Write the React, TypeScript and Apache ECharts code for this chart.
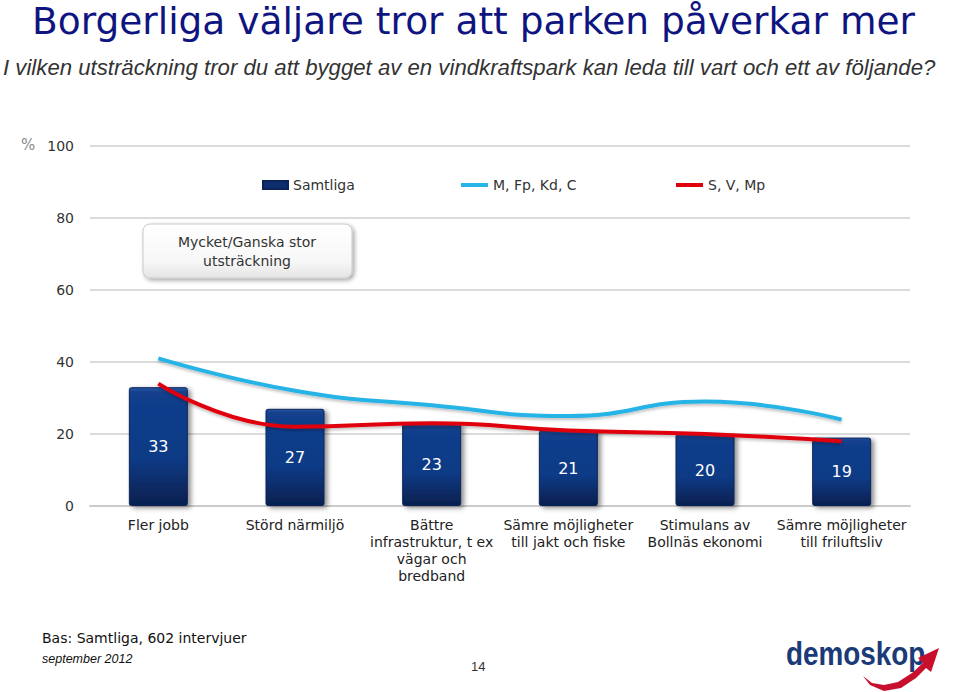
import React, { useEffect, useRef } from "react";
import * as echarts from "echarts";

const categories = [
  "Fler jobb",
  "Störd närmiljö",
  "Bättre\ninfrastruktur, t ex\nvägar och\nbredband",
  "Sämre möjligheter\ntill jakt och fiske",
  "Stimulans av\nBollnäs ekonomi",
  "Sämre möjligheter\ntill friluftsliv",
];
const samtliga = [33, 27, 23, 21, 20, 19];
const borgerliga = [41, 32, 28, 25, 29, 24];
const rodgrona = [34, 22, 23, 21, 20, 18];
const seriesNames = ["Samtliga", "M, Fp, Kd, C", "S, V, Mp"];
const yTicks = { min: 0, max: 100, interval: 20 };

const SANS = "'DejaVu Sans', Verdana, sans-serif";
const ARIAL = "'Liberation Sans', Arial, sans-serif";

export default function App() {
  const ref = useRef<HTMLDivElement>(null);
  useEffect(() => {
    document.body.style.margin = "0";
    const chart = echarts.init(ref.current!, null, { renderer: "svg" });
    const barGradient = new echarts.graphic.LinearGradient(0, 0, 0, 1, [
      { offset: 0, color: "#2a57a3" },
      { offset: 0.04, color: "#123f8c" },
      { offset: 0.6, color: "#0c3a85" },
      { offset: 1, color: "#06204f" },
    ]);
    const legendText = { fontFamily: SANS, fontSize: 14, color: "#333" };
    chart.setOption({
      animation: false,
      backgroundColor: "#ffffff",
      grid: { left: 90, right: 50, top: 146, bottom: 186 },
      legend: [
        {
          data: [{ name: seriesNames[0], itemStyle: { color: "#0d2e6e" } }],
          left: 262,
          top: 178,
          padding: 0,
          icon: "rect",
          itemWidth: 25,
          itemHeight: 8,
          textStyle: legendText,
        },
        {
          data: [{ name: seriesNames[1] }],
          left: 461,
          top: 178,
          padding: 0,
          icon: "rect",
          itemWidth: 27,
          itemHeight: 4,
          textStyle: legendText,
        },
        {
          data: [{ name: seriesNames[2] }],
          left: 676,
          top: 178,
          padding: 0,
          icon: "rect",
          itemWidth: 27,
          itemHeight: 4,
          textStyle: legendText,
        },
      ],
      xAxis: {
        type: "category",
        data: categories,
        axisTick: { show: false },
        axisLine: { lineStyle: { color: "#cbcbcb", width: 2 } },
        axisLabel: {
          interval: 0,
          margin: 10,
          fontFamily: SANS,
          fontSize: 14,
          lineHeight: 17,
          color: "#222",
          align: "center",
        },
      },
      yAxis: {
        type: "value",
        min: yTicks.min,
        max: yTicks.max,
        interval: yTicks.interval,
        axisLine: { show: false },
        axisTick: { show: false },
        axisLabel: { margin: 16, fontFamily: SANS, fontSize: 14, color: "#333" },
        splitLine: { lineStyle: { color: "#cfcfcf", width: 1.6 } },
      },
      series: [
        {
          name: seriesNames[0],
          type: "bar",
          data: samtliga,
          barWidth: 59,
          itemStyle: {
            color: barGradient,
            borderColor: "#0a2458",
            borderWidth: 1,
            borderRadius: 2,
            shadowColor: "rgba(0,0,0,0.45)",
            shadowBlur: 5,
            shadowOffsetX: 3,
            shadowOffsetY: 2,
          },
          label: {
            show: true,
            position: "inside",
            color: "#ffffff",
            fontFamily: SANS,
            fontSize: 16,
          },
          z: 2,
        },
        {
          name: seriesNames[1],
          type: "line",
          data: borgerliga,
          smooth: 0.5,
          showSymbol: false,
          symbol: "none",
          itemStyle: { color: "#27b4e6" },
          lineStyle: {
            color: "#27b4e6",
            width: 4,
            shadowColor: "rgba(0,0,0,0.25)",
            shadowBlur: 3,
            shadowOffsetY: 2,
          },
          z: 3,
        },
        {
          name: seriesNames[2],
          type: "line",
          data: rodgrona,
          smooth: 0.5,
          showSymbol: false,
          symbol: "none",
          itemStyle: { color: "#e0000c" },
          lineStyle: {
            color: "#e0000c",
            width: 4,
            shadowColor: "rgba(0,0,0,0.25)",
            shadowBlur: 3,
            shadowOffsetY: 2,
          },
          z: 4,
        },
      ],
      graphic: [
        {
          type: "text",
          left: 32,
          top: 2,
          style: {
            text: "Borgerliga väljare tror att parken påverkar mer",
            fontFamily: SANS,
            fontSize: 37.5,
            fill: "#0f1580",
          },
        },
        {
          type: "text",
          left: 3,
          top: 56,
          style: {
            text: "I vilken utsträckning tror du att bygget av en vindkraftspark kan leda till vart och ett av följande?",
            fontFamily: ARIAL,
            fontStyle: "italic",
            fontSize: 22.2,
            fill: "#333",
          },
        },
        {
          type: "text",
          left: 21,
          top: 137,
          style: { text: "%", fontFamily: SANS, fontSize: 15, fill: "#8a8a8a" },
        },
        {
          type: "rect",
          shape: { x: 143, y: 224, width: 209, height: 54, r: 7 },
          style: {
            fill: new echarts.graphic.LinearGradient(0, 0, 0, 1, [
              { offset: 0, color: "#ffffff" },
              { offset: 0.7, color: "#f7f7f7" },
              { offset: 1, color: "#e4e4e4" },
            ]),
            stroke: "#c9c9c9",
            lineWidth: 1,
            shadowColor: "rgba(0,0,0,0.35)",
            shadowBlur: 4,
            shadowOffsetX: 2,
            shadowOffsetY: 2,
          },
        },
        {
          type: "text",
          x: 247,
          y: 251,
          style: {
            text: "Mycket/Ganska stor\nutsträckning",
            fontFamily: SANS,
            fontSize: 14,
            lineHeight: 19,
            fill: "#333",
            align: "center",
            verticalAlign: "middle",
          },
        },
        {
          type: "text",
          left: 42,
          top: 631,
          style: { text: "Bas: Samtliga, 602 intervjuer", fontFamily: SANS, fontSize: 14, fill: "#111" },
        },
        {
          type: "text",
          left: 42,
          top: 652,
          style: { text: "september 2012", fontFamily: ARIAL, fontStyle: "italic", fontSize: 12.5, fill: "#111" },
        },
        {
          type: "text",
          left: 471,
          top: 660,
          style: { text: "14", fontFamily: ARIAL, fontSize: 13, fill: "#333" },
        },
        {
          type: "text",
          x: 786,
          y: 637,
          scaleX: 0.845,
          style: { text: "demoskop", fontFamily: ARIAL, fontWeight: "bold", fontSize: 33, fill: "#1b3a78" },
        },
        {
          type: "polygon",
          shape: {
            points: [
              [863, 676], [870, 685], [884, 691], [901, 688], [916, 678], [926, 668],
              [931, 672], [939, 648], [918, 658], [923, 663], [912, 673], [898, 682], [884, 685], [872, 683],
            ],
          },
          style: { fill: "#c8102e" },
        },
      ],
    });
    return () => chart.dispose();
  }, []);
  return <div ref={ref} style={{ width: 960, height: 692, position: "absolute", left: 0, top: 0 }} />;
}
